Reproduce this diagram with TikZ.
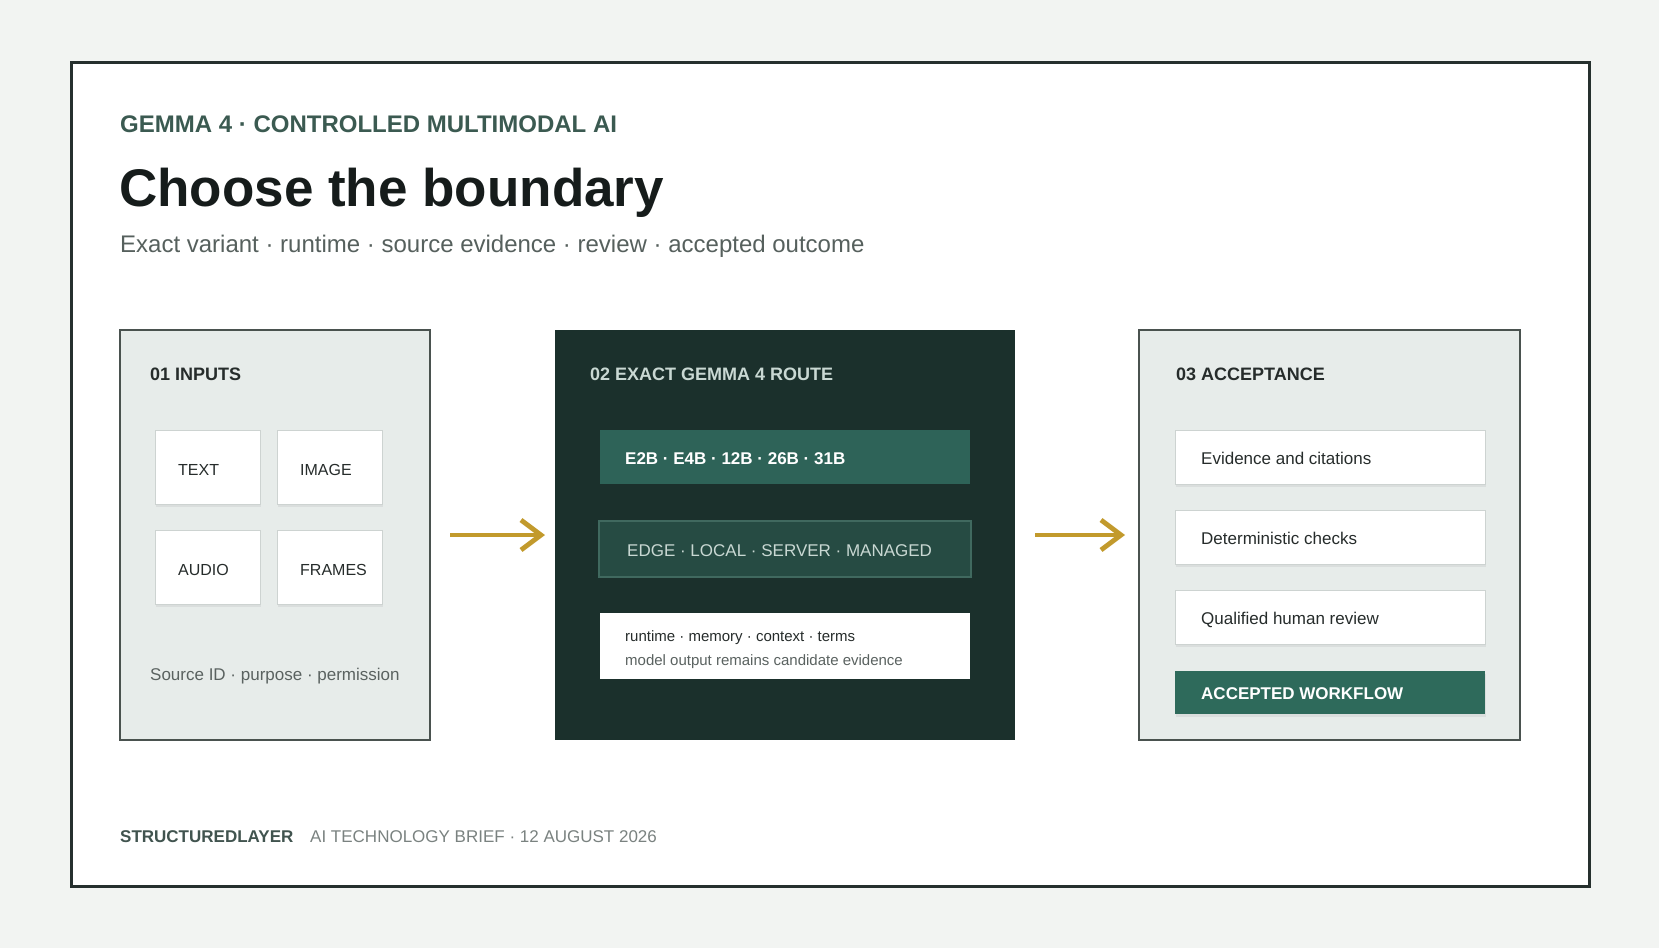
\documentclass[tikz,border=0pt]{standalone}
\usepackage{fontspec}
\setmainfont{Liberation Sans}
\usetikzlibrary{positioning,shadows,arrows.meta}

\definecolor{pagebg}{HTML}{F2F4F2}
\definecolor{frameline}{HTML}{26302E}
\definecolor{kicker}{HTML}{3B5A51}
\definecolor{titleink}{HTML}{161C1B}
\definecolor{subink}{HTML}{56605D}
\definecolor{panelbg}{HTML}{E7ECEA}
\definecolor{panelline}{HTML}{4A524F}
\definecolor{routebg}{HTML}{1B302C}
\definecolor{routeink}{HTML}{C9D8D3}
\definecolor{variantbar}{HTML}{2E6358}
\definecolor{runbar}{HTML}{264B43}
\definecolor{runline}{HTML}{40695F}
\definecolor{chipline}{HTML}{CDD3D1}
\definecolor{chipink}{HTML}{262C2B}
\definecolor{noteink}{HTML}{5A6260}
\definecolor{acceptbar}{HTML}{2E6A5B}
\definecolor{arrowgold}{HTML}{C29A2C}
\definecolor{brandink}{HTML}{41544F}
\definecolor{footink}{HTML}{7A8280}

\tikzset{
  panel/.style={anchor=north west, inner sep=0pt, outer sep=0pt, minimum height=410pt},
  chip/.style={anchor=north west, inner sep=0pt, outer sep=0pt, fill=white, draw=chipline, line width=1pt,
    drop shadow={shadow xshift=1pt, shadow yshift=-3pt, opacity=.12}},
  bar/.style={anchor=north west, inner sep=0pt, outer sep=0pt, minimum width=370pt},
  lbl/.style={inner sep=0pt, anchor=base west, yshift=-7pt},
  cardtitle/.style={inner sep=0pt, anchor=base west, font=\fontsize{18}{20}\selectfont\bfseries},
  flow/.style={draw=arrowgold, line width=4.8pt, -{Straight Barb[length=20pt,width=30pt]}}
}

\begin{document}
\begin{tikzpicture}[x=1pt, y=-1pt, font=\fontsize{17}{20}\selectfont]
  \useasboundingbox (0,0) rectangle (1659,948);
  \fill[pagebg] (0,0) rectangle (1659,948);
  \node[anchor=north west, inner sep=0pt, fill=white, draw=frameline, line width=3pt,
    minimum width=1518pt, minimum height=824pt] (frame) at (70,61) {};

  % heading
  \node[inner sep=0pt, anchor=base west, text=kicker, font=\fontsize{24}{28}\selectfont\bfseries] (kicker) at (120,132) {GEMMA 4 · CONTROLLED MULTIMODAL AI};
  \node[inner sep=0pt, anchor=base west, text=titleink, font=\fontsize{53}{60}\selectfont\bfseries] (headline) at (119,206) {Choose the boundary};
  \node[inner sep=0pt, anchor=base west, text=subink, font=\fontsize{24}{28}\selectfont] (subline) at (120,252) {Exact variant · runtime · source evidence · review · accepted outcome};

  % panels
  \node[panel, fill=panelbg, draw=panelline, line width=1.8pt, minimum width=310pt] (inputs) at (120,330) {};
  \node[panel, fill=routebg, minimum width=460pt] (route) at (555,330) {};
  \node[panel, fill=panelbg, draw=panelline, line width=1.8pt, minimum width=381pt] (accept) at (1139,330) {};

  \node[cardtitle, text=chipink] (inputs-t) at (150,380) {01 INPUTS};
  \node[cardtitle, text=routeink] (route-t) at (590,380) {02 EXACT GEMMA 4 ROUTE};
  \node[cardtitle, text=chipink] (accept-t) at (1176,380) {03 ACCEPTANCE};

  % 01 inputs
  \foreach \name/\x/\y/\lab in {text/155/430/TEXT, image/277/430/IMAGE, audio/155/530/AUDIO, frames/277/530/FRAMES}{
    \node[chip, minimum width=105pt, minimum height=74pt] (\name) at (\x,\y) {};
    \node[right=23pt of \name.west, lbl, yshift=-1pt, text=chipink, font=\fontsize{16}{18}\selectfont] (\name-l) {\lab};
  }
  \node[inner sep=0pt, anchor=base west, text=noteink] (source) at (150,680) {Source ID · purpose · permission};

  % 02 route
  \node[bar, fill=variantbar, minimum height=54pt] (variant) at (600,430) {};
  \node[right=25pt of variant.west, lbl, text=white, font=\fontsize{17}{20}\selectfont\bfseries] (variant-l) {E2B · E4B · 12B · 26B · 31B};
  \node[bar, fill=runbar, draw=runline, line width=1.2pt, minimum width=372pt, minimum height=56pt] (runtime) at (599,521) {};
  \node[right=28pt of runtime.west, lbl, text=routeink] (runtime-l) {EDGE · LOCAL · SERVER · MANAGED};
  \node[bar, fill=white, minimum height=66pt] (note) at (600,613) {};
  \node[inner sep=0pt, anchor=west, align=left, text=chipink, font=\fontsize{15}{24}\selectfont,
    right=25pt of note.west, yshift=-4pt] (note-l)
    {runtime · memory · context · terms\\\textcolor{noteink}{model output remains candidate evidence}};

  % 03 acceptance
  \foreach \name/\y/\lab in {evid/430/Evidence and citations, determ/510/Deterministic checks, human/590/Qualified human review}{
    \node[chip, minimum width=310pt, minimum height=54pt] (\name) at (1175,\y) {};
    \node[right=26pt of \name.west, lbl, text=chipink] (\name-l) {\lab};
  }
  \node[bar, fill=acceptbar, minimum width=310pt, minimum height=43pt,
    drop shadow={shadow xshift=1pt, shadow yshift=-3pt, opacity=.12}] (done) at (1175,671) {};
  \node[right=26pt of done.west, lbl, text=white, font=\fontsize{17}{20}\selectfont\bfseries] (done-l) {ACCEPTED WORKFLOW};

  % arrows
  \draw[flow] ([xshift=20pt]inputs.east) -- ([xshift=-10pt]route.west);
  \draw[flow] ([xshift=20pt]route.east) -- ([xshift=-14pt]accept.west);

  % footer
  \node[inner sep=0pt, anchor=base west, text=brandink, font=\fontsize{17}{18}\selectfont\bfseries] (brand) at (120,842) {STRUCTUREDLAYER};
  \node[inner sep=0pt, anchor=base west, text=footink, font=\fontsize{17}{18}\selectfont] (brief) at (310,842) {AI TECHNOLOGY BRIEF · 12 AUGUST 2026};
\end{tikzpicture}
\end{document}
